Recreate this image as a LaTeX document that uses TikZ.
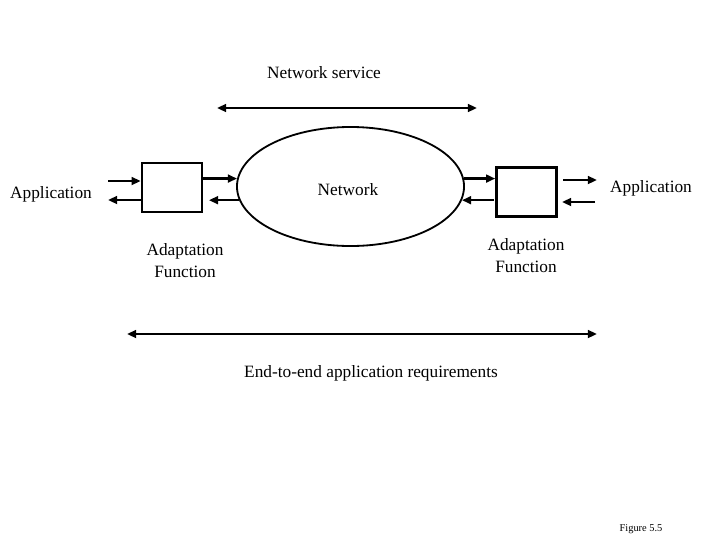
\documentclass[tikz,border=0pt]{standalone}
\usepackage{fontspec}
\setmainfont{Liberation Serif}
\usetikzlibrary{arrows.meta,shapes.geometric}

\begin{document}
\begin{tikzpicture}[x=0.025cm, y=-0.025cm, line width=1.8pt, font=\fontsize{12.3}{15.6}\selectfont,
  flow/.style={-{Triangle[length=6.5pt,width=5.5pt]}},
  span/.style={{Triangle[length=6.5pt,width=5.5pt]}-{Triangle[length=6.5pt,width=5.5pt]}},
  afbox/.style={rectangle,draw,minimum width=1.5cm,minimum height=1.22cm,inner sep=0pt},
  caption/.style={align=center,inner sep=0pt}]
\useasboundingbox (0,0) rectangle (720,540);
\node[ellipse,draw,line width=1.3pt,minimum width=5.675cm,minimum height=2.975cm,inner sep=0pt] (net) at (350.5,186.5) {};
\node[caption] (nettext) at (348,190) {Network};
\node[afbox] (lbox) at (172,187.5) {};
\node[afbox] (rbox) at (526.5,192) {};
\node[caption] (lapp) at (51,194) {Application};
\node[caption] (rapp) at (651,188) {Application};
\node[caption] (laf) at (185,261) {Adaptation\\Function};
\node[caption] (raf) at (526,256) {Adaptation\\Function};
\node[caption] (service) at (324,73) {Network service};
\node[caption] (e2e) at (371,373) {End-to-end application requirements};
\node[caption,font=\fontsize{7.4}{9}\selectfont] (fig) at (641,529) {Figure 5.5};
% free ends
\coordinate (lin) at (108,181);
\coordinate (lout) at (108,200);
\coordinate (rout) at (597,180);
\coordinate (rin) at (595,202);
\coordinate (sl) at (217,108);
\coordinate (sr) at (477,108);
\coordinate (el) at (127,334);
\coordinate (er) at (597,334);
\path
(lin) edge[flow] (lin -| lbox.west)
(lbox.west |- lout) edge[flow] (lout)
(lbox.east |- net.176) edge[flow] (net.176)
(net.187) edge[flow] ([xshift=4pt]lbox.east |- net.187)
(net.4) edge[flow] (net.4 -| rbox.west)
([xshift=-1pt]rbox.west |- net.-7) edge[flow] (net.-7)
([xshift=4pt]rbox.east |- rout) edge[flow] (rout)
(rin) edge[flow] ([xshift=3pt]rbox.east |- rin)
(sl) edge[span] (sr)
(el) edge[span] (er);
\end{tikzpicture}
\end{document}
